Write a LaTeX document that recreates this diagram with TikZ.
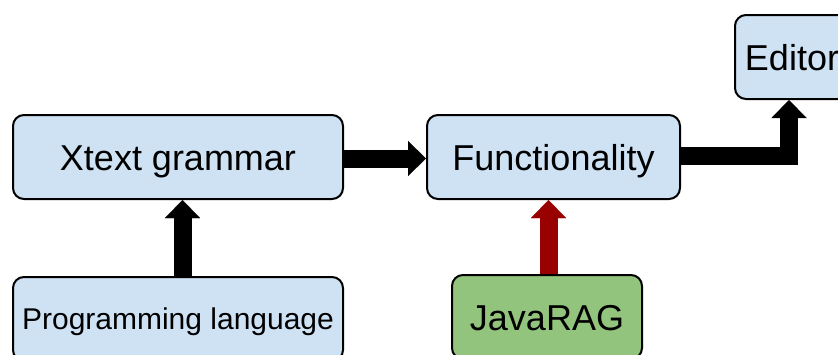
\documentclass[tikz,border=0pt]{standalone}
\usepackage{fontspec}
\setmainfont{Liberation Sans}
\usetikzlibrary{arrows.meta,calc}
\definecolor{boxblue}{HTML}{CFE2F3}
\definecolor{boxgreen}{HTML}{93C47D}
\definecolor{arrowred}{HTML}{990000}
\tikzset{
  blk/.style={draw=black, line width=2pt, rounded corners=11pt, minimum height=84pt,
    inner sep=0pt, text height=26pt, text depth=0pt,
    font=\fontsize{36pt}{40pt}\selectfont, anchor=center},
  bluebox/.style={blk, fill=boxblue},
  greenbox/.style={blk, fill=boxgreen},
  fat/.style={line width=18pt, line join=miter,
    -{Triangle[width=35pt,length=18pt,line width=0.01pt]}},
}
\begin{document}
\begin{tikzpicture}[x=1pt,y=-1pt]
\useasboundingbox (0,0) rectangle (838,354);
\clip (0,0) rectangle (838,354);
\node[bluebox, minimum width=330pt] (xt) at (178,157) {Xtext grammar};
\node[bluebox, minimum width=253pt] (fn) at (553.5,157) {Functionality};
\node[bluebox, minimum width=114pt] (ed) at (792,57) {Editor};
\node[bluebox, minimum width=330pt, text height=21.5pt,
      font=\fontsize{30pt}{34pt}\selectfont] (pl) at (178,319) {Programming language};
\node[greenbox, minimum width=190pt] (ja) at (547,317) {JavaRAG};
\draw[fat] ([yshift=-1.5pt]xt.east) -- ([yshift=-1.5pt]fn.west);
\draw[fat] ([xshift=4.5pt]pl.north) -- ([xshift=4.5pt]pl.north |- xt.south);
\draw[fat, color=arrowred] ([xshift=1.5pt]ja.north) -- ([xshift=1.5pt]ja.north |- fn.south);
\draw[fat] ([yshift=1.5pt]fn.east) -| ([xshift=-3pt]ed.south);
\end{tikzpicture}
\end{document}
